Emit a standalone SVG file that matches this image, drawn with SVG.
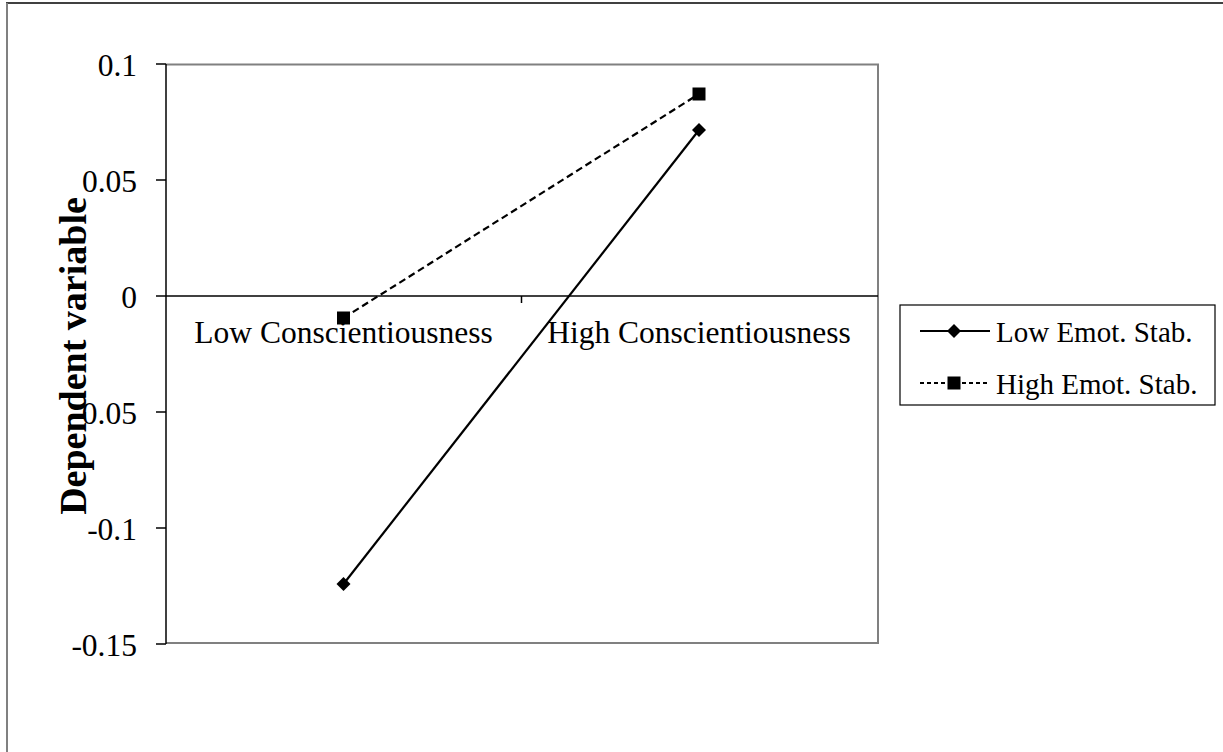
<svg xmlns="http://www.w3.org/2000/svg" width="1223" height="752" viewBox="0 0 1223 752">
<style>
.t{font-family:"Liberation Serif","Times New Roman",serif;font-size:31.5px;fill:#000}
.yl{text-anchor:end}
.xl{text-anchor:middle}
.lg{font-size:29px}
.ttl{font-size:38px;font-weight:bold;text-anchor:middle}
.ser{fill:none;stroke:#000;stroke-width:2.2}
.dash{stroke-dasharray:7 4}
.gray{stroke:#808080;stroke-width:2;fill:none}
.blk{stroke:#000;stroke-width:1.5;fill:none}
</style>
<defs>
<marker id="dia" viewBox="-8 -8 16 16" markerWidth="16" markerHeight="16" markerUnits="userSpaceOnUse" refX="0" refY="0"><path d="M0,-7 L7,0 L0,7 L-7,0 Z" fill="#000"/></marker>
<marker id="sq" viewBox="-8 -8 16 16" markerWidth="16" markerHeight="16" markerUnits="userSpaceOnUse" refX="0" refY="0"><rect x="-6.5" y="-6.5" width="13" height="13" fill="#000"/></marker>
</defs>
<rect width="1223" height="752" fill="#fff"/>
<g id="frame">
<line x1="6" y1="3" x2="1223" y2="3" stroke="#000" stroke-width="1.5"/>
<line x1="7" y1="3" x2="7" y2="752" stroke="#808080" stroke-width="2"/>
</g>
<g id="plot-area">
<polyline class="gray" points="166,64.5 878,64.5 878,643 166,643"/>
<line class="blk" x1="166" y1="64" x2="166" y2="644"/>
<line class="blk" x1="166" y1="296" x2="878" y2="296"/>
<g class="blk">
<line x1="156" y1="64" x2="166" y2="64"/>
<line x1="156" y1="180" x2="166" y2="180"/>
<line x1="156" y1="296" x2="166" y2="296"/>
<line x1="156" y1="412" x2="166" y2="412"/>
<line x1="156" y1="528" x2="166" y2="528"/>
<line x1="156" y1="644" x2="166" y2="644"/>
<line x1="521.5" y1="296" x2="521.5" y2="303"/>
</g>
</g>
<g id="y-axis-labels" class="t yl">
<text x="137" y="75.5">0.1</text>
<text x="137" y="191.5">0.05</text>
<text x="137" y="307.5">0</text>
<text x="137" y="423.5">-0.05</text>
<text x="137" y="539.5">-0.1</text>
<text x="137" y="655.5">-0.15</text>
</g>
<g id="x-axis-labels" class="t xl">
<text x="343.5" y="343">Low Conscientiousness</text>
<text x="699" y="343">High Conscientiousness</text>
</g>
<g id="y-title">
<text class="t ttl" transform="translate(86,356) rotate(-90)">Dependent variable</text>
</g>
<g id="connectors">
<polyline id="low-es" class="ser" points="343.5,584 699,130" marker-start="url(#dia)" marker-end="url(#dia)"/>
<polyline id="high-es" class="ser dash" points="343.5,318 699,94" marker-start="url(#sq)" marker-end="url(#sq)"/>
</g>
<g id="legend">
<rect x="900" y="305" width="315" height="100" fill="#fff" stroke="#000" stroke-width="1.2"/>
<line x1="920" y1="331" x2="990" y2="331" stroke="#000" stroke-width="2.2"/>
<path d="M954,324 L961,331 L954,338 L947,331 Z" fill="#000"/>
<text class="t lg" x="996" y="341.5">Low Emot. Stab.</text>
<line x1="920" y1="383" x2="990" y2="383" stroke="#000" stroke-width="2.2" stroke-dasharray="4 3"/>
<rect x="947.5" y="376.5" width="13" height="13" fill="#000"/>
<text class="t lg" x="996" y="393.5">High Emot. Stab.</text>
</g>
</svg>
